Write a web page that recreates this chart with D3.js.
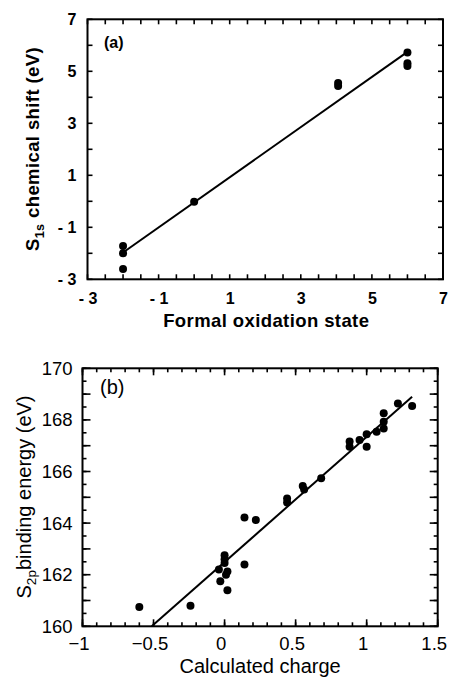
<!DOCTYPE html>
<html>
<head>
<meta charset="utf-8">
<script src="https://cdn.jsdelivr.net/npm/d3@7"></script>
<style>
  body { margin: 0; background: #fff; }
  svg { display: block; font-family: 'Liberation Sans', Arial, sans-serif; }
</style>
</head>
<body>
<script>
// (a) S1s chemical shift vs formal oxidation state
const oxidationState = [-2, -2, -2, 0, 4.05, 4.05, 6, 6, 6]
const s1sShift = [-1.72, -2.0, -2.6, -0.02, 4.55, 4.43, 5.72, 5.31, 5.2]
const fitAx = [-1.97, 5.94]
const fitAy = [-1.94, 5.69]
const xLabelsA = [-3, -1, 1, 3, 5, 7]
const yLabelsA = [-3, -1, 1, 3, 5, 7]

// (b) S2p binding energy vs calculated charge
const charge = [-0.6, -0.24, 0.0, 0.0, 0.0, -0.04, 0.02, 0.01, -0.03, 0.02,
  0.14, 0.22, 0.14, 0.44, 0.44, 0.55, 0.56, 0.68, 0.88, 0.88,
  0.95, 1.0, 1.0, 1.07, 1.12, 1.12, 1.12, 1.22, 1.32]
const s2pEnergy = [160.75, 160.8, 162.75, 162.6, 162.45, 162.2, 162.12, 162.0, 161.75, 161.4,
  164.22, 164.12, 162.4, 164.95, 164.8, 165.44, 165.3, 165.74, 167.16, 166.96,
  167.22, 167.44, 166.96, 167.54, 168.26, 167.93, 167.67, 168.64, 168.54]
const fitBx = [-0.513, 1.32]
const fitBy = [160, 168.9]
const xLabelsB = [-1, -0.5, 0, 0.5, 1, 1.5]
const yLabelsB = [160, 162, 164, 166, 168, 170]

const svg = d3.select('body').append('svg')
  .attr('width', 449)
  .attr('height', 679)

const drawPanel = (p) => {
  const x = d3.scaleLinear().domain(p.xDomain).range([p.left, p.right])
  const y = d3.scaleLinear().domain(p.yDomain).range([p.bottom, p.top])

  const g = svg.append('g').attr('font-weight', p.weight)

  g.append('rect')
    .attr('x', p.left)
    .attr('y', p.top)
    .attr('width', p.right - p.left)
    .attr('height', p.bottom - p.top)
    .attr('fill', 'none')
    .attr('stroke', '#000')
    .attr('stroke-width', 2)

  // inward ticks on all four sides
  const tickLines = []
  p.xTicks.forEach(([values, len]) => values.forEach(d => {
    tickLines.push([x(d), p.bottom, x(d), p.bottom - len])
    tickLines.push([x(d), p.top, x(d), p.top + len])
  }))
  p.yTicks.forEach(([values, len]) => values.forEach(d => {
    tickLines.push([p.left, y(d), p.left + len, y(d)])
    tickLines.push([p.right, y(d), p.right - len, y(d)])
  }))
  g.append('g')
    .selectAll('line')
    .data(tickLines)
    .join('line')
    .attr('x1', d => d[0])
    .attr('y1', d => d[1])
    .attr('x2', d => d[2])
    .attr('y2', d => d[3])
    .attr('stroke', '#000')
    .attr('stroke-width', 1.6)

  // tick labels
  g.append('g')
    .attr('transform', `translate(${p.xLabelDx},${p.bottom})`)
    .call(d3.axisBottom(x).tickValues(p.xLabels).tickSize(0).tickPadding(p.xPad).tickFormat(p.fmt))
    .call(a => a.select('.domain').remove())
    .attr('font-size', p.tickFont)
    .attr('font-family', null)
    .selectAll('text').attr('fill', '#000')

  g.append('g')
    .attr('transform', `translate(${p.left},0)`)
    .call(d3.axisLeft(y).tickValues(p.yLabels).tickSize(0).tickPadding(p.yPad).tickFormat(p.fmt))
    .call(a => a.select('.domain').remove())
    .attr('font-size', p.tickFont)
    .attr('font-family', null)
    .selectAll('text').attr('fill', '#000')

  // fit line
  g.append('path')
    .attr('d', d3.line().x(d => x(d[0])).y(d => y(d[1]))(d3.zip(p.fitX, p.fitY)))
    .attr('fill', 'none')
    .attr('stroke', '#000')
    .attr('stroke-width', 2)

  g.append('g').selectAll('circle')
    .data(d3.zip(p.xs, p.ys))
    .join('circle')
    .attr('cx', d => x(d[0]))
    .attr('cy', d => y(d[1]))
    .attr('r', 4)
    .attr('fill', '#000')

  g.append('text')
    .attr('x', p.tagX)
    .attr('y', p.tagY)
    .attr('font-size', p.tagFont)
    .text(p.tag)

  g.append('text')
    .attr('x', (p.left + p.right) / 2 + p.xTitleDx)
    .attr('y', p.xTitleY)
    .attr('text-anchor', 'middle')
    .attr('font-size', p.titleFont)
    .attr('letter-spacing', p.spacing)
    .text(p.xTitle)

  const yt = g.append('text')
    .attr('transform', `translate(${p.yTitleX},${p.yTitleCy}) rotate(-90)`)
    .attr('text-anchor', 'middle')
    .attr('font-size', p.titleFont)
    .attr('letter-spacing', p.spacing)
  yt.append('tspan').text('S')
  yt.append('tspan').attr('dy', 5).attr('font-size', p.titleFont * 0.68).text(p.ySub)
  yt.append('tspan').attr('dy', -5).text(p.yRest)
}

const fmtA = d => d < 0 ? `- ${-d}` : `${d}`
const fmtB = d => `${d}`.replace('-', '\u2212')

drawPanel({
  xDomain: [-3, 7], yDomain: [-3, 7],
  left: 87.5, right: 443, top: 19.3, bottom: 279.3,
  weight: 'bold',
  xTicks: [[d3.range(-3, 7.01, 0.5), 5]],
  yTicks: [[d3.range(-3, 7.01, 1), 5]],
  xLabels: xLabelsA, yLabels: yLabelsA, fmt: fmtA,
  tickFont: 16, xPad: 13, yPad: 11, xLabelDx: 0,
  fitX: fitAx, fitY: fitAy,
  xs: oxidationState, ys: s1sShift,
  tag: '(a)', tagX: 104, tagY: 48, tagFont: 16,
  xTitle: 'Formal oxidation state', xTitleDx: 1, xTitleY: 327,
  titleFont: 18.5, spacing: 0.4,
  yTitleX: 39, yTitleCy: 149, ySub: '1s', yRest: ' chemical shift (eV)'
})

drawPanel({
  xDomain: [-1, 1.5], yDomain: [160, 170],
  left: 82.5, right: 437.7, top: 368.3, bottom: 626.3,
  weight: 'normal',
  xTicks: [[d3.range(-1, 1.501, 0.1), 4], [d3.range(-1, 1.501, 0.5), 7]],
  yTicks: [[d3.range(160, 170.01, 0.5), 4], [d3.range(160, 170.01, 1), 8]],
  xLabels: xLabelsB, yLabels: yLabelsB, fmt: fmtB,
  tickFont: 18.5, xPad: 11, yPad: 10, xLabelDx: -4,
  fitX: fitBx, fitY: fitBy,
  xs: charge, ys: s2pEnergy,
  tag: '(b)', tagX: 100, tagY: 394, tagFont: 20,
  xTitle: 'Calculated charge', xTitleDx: 0, xTitleY: 673,
  titleFont: 20, spacing: 0,
  yTitleX: 31, yTitleCy: 497, ySub: '2p', yRest: 'binding energy (eV)'
})
</script>
</body>
</html>
